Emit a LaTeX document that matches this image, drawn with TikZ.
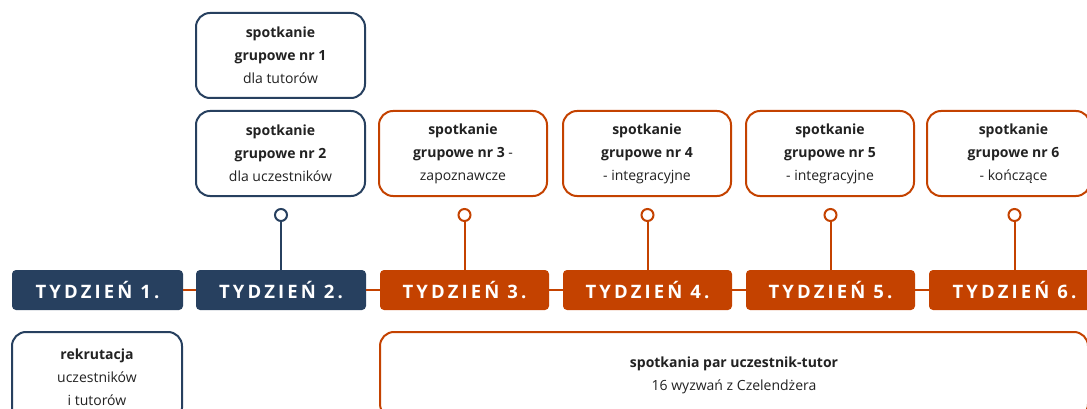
\documentclass[tikz,border=0pt]{standalone}
\usepackage{fontspec}
\setmainfont{Open Sans}
\newfontfamily\wkfont[LetterSpace=17]{Open Sans}
\definecolor{navy}{HTML}{27405F}
\definecolor{rust}{HTML}{C44200}
\definecolor{txt}{HTML}{222222}
\begin{document}
\begin{tikzpicture}[x=1pt,y=-1pt,
  week/.style={rounded corners=4pt, minimum height=40pt, text=white,
    font=\wkfont\bfseries\fontsize{18.5}{19}\selectfont, inner sep=0},
  card/.style={draw, line width=2pt, rounded corners=14pt, align=center,
    font=\fontsize{14}{23}\selectfont, text=txt, inner sep=0, fill=white},
  pin/.style={circle, draw, line width=2pt, minimum size=12pt, inner sep=0, fill=white},
  link/.style={line width=2pt}]
\useasboundingbox (0,0) rectangle (1087,409);
\clip (0,0) rectangle (1087,409);

% timeline weeks
\node[week, fill=navy, minimum width=171pt] (w1) at (97.5,290) {TYDZIEŃ 1.};
\node[week, fill=navy, minimum width=170pt] (w2) at (281,290) {TYDZIEŃ 2.};
\node[week, fill=rust, minimum width=169pt] (w3) at (464.5,290) {TYDZIEŃ 3.};
\node[week, fill=rust, minimum width=169pt] (w4) at (647.5,290) {TYDZIEŃ 4.};
\node[week, fill=rust, minimum width=169pt] (w5) at (830.5,290) {TYDZIEŃ 5.};
\node[week, fill=rust, minimum width=171pt] (w6) at (1014.5,290) {TYDZIEŃ 6.};

\draw[link, rust] (w1.east) -- (w2.west);
\draw[link, rust] (w2.east) -- (w3.west);
\draw[link, rust] (w3.east) -- (w4.west);
\draw[link, rust] (w4.east) -- (w5.west);
\draw[link, rust] (w5.east) -- (w6.west);

% pins
\node[pin, draw=navy] (p2) at (281,215) {};
\node[pin, draw=rust] (p3) at (464.5,215) {};
\node[pin, draw=rust] (p4) at (647.5,215) {};
\node[pin, draw=rust] (p5) at (830.5,215) {};
\node[pin, draw=rust] (p6) at (1014.5,215) {};
\draw[link, navy] (p2.south) -- (w2.north);
\draw[link, rust] (p3.south) -- (w3.north);
\draw[link, rust] (p4.south) -- (w4.north);
\draw[link, rust] (p5.south) -- (w5.north);
\draw[link, rust] (p6.south) -- (w6.north);

% top cards
\node[card, draw=navy, minimum width=169pt, minimum height=85pt] (c1) at (280.5,55.5)
  {\textbf{spotkanie}\\\textbf{grupowe nr 1}\\dla tutorów};
\node[card, draw=navy, minimum width=169pt, minimum height=85pt] (c2) at (280.5,153.5)
  {\textbf{spotkanie}\\\textbf{grupowe nr 2}\\dla uczestników};
\node[card, draw=rust, minimum width=168pt, minimum height=85pt] (c3) at (463,153.5)
  {\textbf{spotkanie}\\\textbf{grupowe nr 3} -\\zapoznawcze};
\node[card, draw=rust, minimum width=168pt, minimum height=85pt] (c4) at (647,153.5)
  {\textbf{spotkanie}\\\textbf{grupowe nr 4}\\- integracyjne};
\node[card, draw=rust, minimum width=168pt, minimum height=85pt] (c5) at (830,153.5)
  {\textbf{spotkanie}\\\textbf{grupowe nr 5}\\- integracyjne};
\node[card, draw=rust, minimum width=163pt, minimum height=85pt] (c6) at (1008.5,153.5)
  {\hspace*{10pt}\textbf{spotkanie}\\\hspace*{10pt}\textbf{grupowe nr 6}\\\hspace*{10pt}- kończące};

% bottom cards
\node[card, draw=navy, minimum width=170pt, minimum height=90pt] (r1) at (97,377)
  {\textbf{rekrutacja}\\uczestników\\i tutorów};
\node[card, draw=rust, minimum width=708pt, minimum height=86pt] (r2) at (734,375)
  {\textbf{spotkania par uczestnik-tutor}\\16 wyzwań z Czelendżera};
\end{tikzpicture}
\end{document}
